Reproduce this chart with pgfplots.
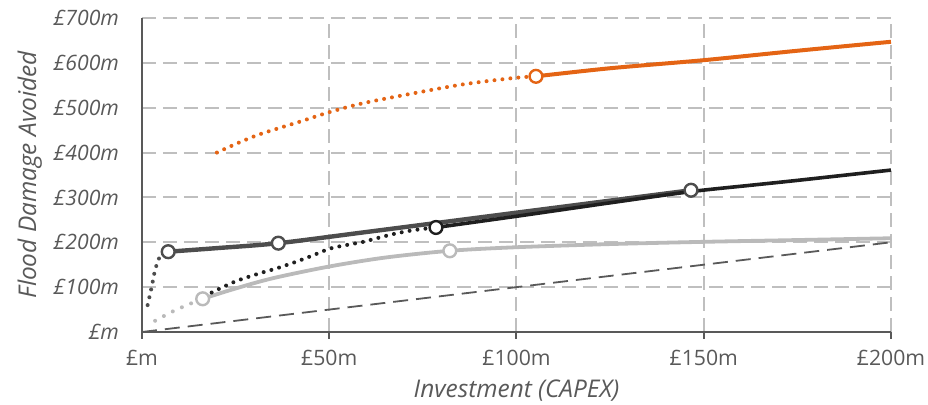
\documentclass[border=0pt]{standalone}
\usepackage{fontspec}
\setmainfont{Open Sans}
\usepackage{pgfplots}
\pgfplotsset{compat=1.18}
\definecolor{orng}{HTML}{E46414}
\definecolor{dgray}{HTML}{4D4D4D}
\definecolor{blk}{HTML}{1F1F1F}
\definecolor{lgray}{HTML}{BABABA}
\definecolor{gridc}{HTML}{BFBFBF}
\definecolor{axc}{HTML}{595959}
\definecolor{txt}{HTML}{595959}
\tikzset{
  dotl/.style={line width=2pt, line cap=round, dash pattern=on 0pt off 4pt},
  mk/.style={only marks, mark=*, mark size=3.2pt, mark options={fill=white, draw=#1, line width=1.2pt}},
}
\begin{document}
\begin{tikzpicture}
\useasboundingbox (-71pt,-36.5pt) rectangle (393pt,166pt);
\begin{axis}[
  at={(0,0)}, anchor=south west,
  scale only axis, width=374.5pt, height=157pt,
  xmin=0, xmax=200, ymin=0, ymax=700,
  axis lines*=left,
  axis line style={draw=axc, line width=1pt},
  grid=major,
  grid style={draw=gridc, line width=1pt, dash pattern=on 7pt off 3.5pt},
  xtick={0,50,100,150,200},
  xticklabels={£m,£50m,£100m,£150m,£200m},
  ytick={0,100,200,300,400,500,600,700},
  yticklabels={£m,£100m,£200m,£300m,£400m,£500m,£600m,£700m},
  tick align=outside,
  major tick length=3.5pt,
  xtick style={draw=axc, line width=1pt},
  ytick style={draw=none},
  yticklabel style={font=\fontsize{10.6}{12}\selectfont\itshape, text=txt, xshift=-4.5pt},
  xticklabel style={font=\fontsize{10.6}{12}\selectfont, text=txt, yshift=-2pt},
  xlabel={Investment (CAPEX)},
  ylabel={Flood Damage Avoided},
  label style={font=\fontsize{12.2}{14}\selectfont\itshape, text=txt},
  xlabel style={yshift=0pt},
  ylabel style={yshift=-1pt},
]
% y = x reference
\addplot[draw=axc, line width=0.9pt, dash pattern=on 7.5pt off 4pt] coordinates {(0,0) (200,200)};
% light gray series
\addplot[draw=lgray, dotl, dash pattern=on 0pt off 5pt, smooth] coordinates {(3.5,25) (8,45) (12,60) (16.2,74)};
\addplot[draw=lgray, line width=1.9pt, smooth] coordinates {(16.2,74) (25,97) (35,120) (50,146) (65,166) (82.2,181) (100,189) (125,196) (150,201) (175,205) (200,209)};
% dark gray series
\addplot[draw=dgray, dotl, smooth] coordinates {(1.5,60) (2.6,101) (3.5,138) (4.8,168) (7,179)};
\addplot[draw=dgray, line width=2.2pt, smooth] coordinates {(7,179) (20,187) (36.4,198) (60,223) (100,266) (146.6,316)};
% black series
\addplot[draw=blk, dotl, smooth] coordinates {(18.6,88) (25,113) (31.5,131) (36,142) (41.3,157) (45.7,171) (50.2,186) (54.7,194) (59.1,201) (63.6,211) (68,220) (72.5,227) (78.5,233)};
\addplot[draw=blk, line width=1.8pt, smooth] coordinates {(78.5,233) (100,258) (125,288) (146.6,313) (162.4,327) (175,338) (200,361)};
% orange series
\addplot[draw=orng, dotl, smooth] coordinates {(20,400) (25,419) (31.5,441) (42.2,469) (50,490) (59,510) (72.4,532) (85.7,552) (99,566) (105.2,570)};
\addplot[draw=orng, line width=2pt, smooth] coordinates {(105.2,570) (125,588) (150,606) (175,627) (200,647)};
% markers
\addplot[mk=lgray] coordinates {(16.2,74) (82.2,181)};
\addplot[mk=dgray] coordinates {(7,179) (36.4,198) (146.6,316)};
\addplot[mk=blk] coordinates {(78.5,233)};
\addplot[mk=orng] coordinates {(105.2,570)};
\end{axis}
\end{tikzpicture}
\end{document}
